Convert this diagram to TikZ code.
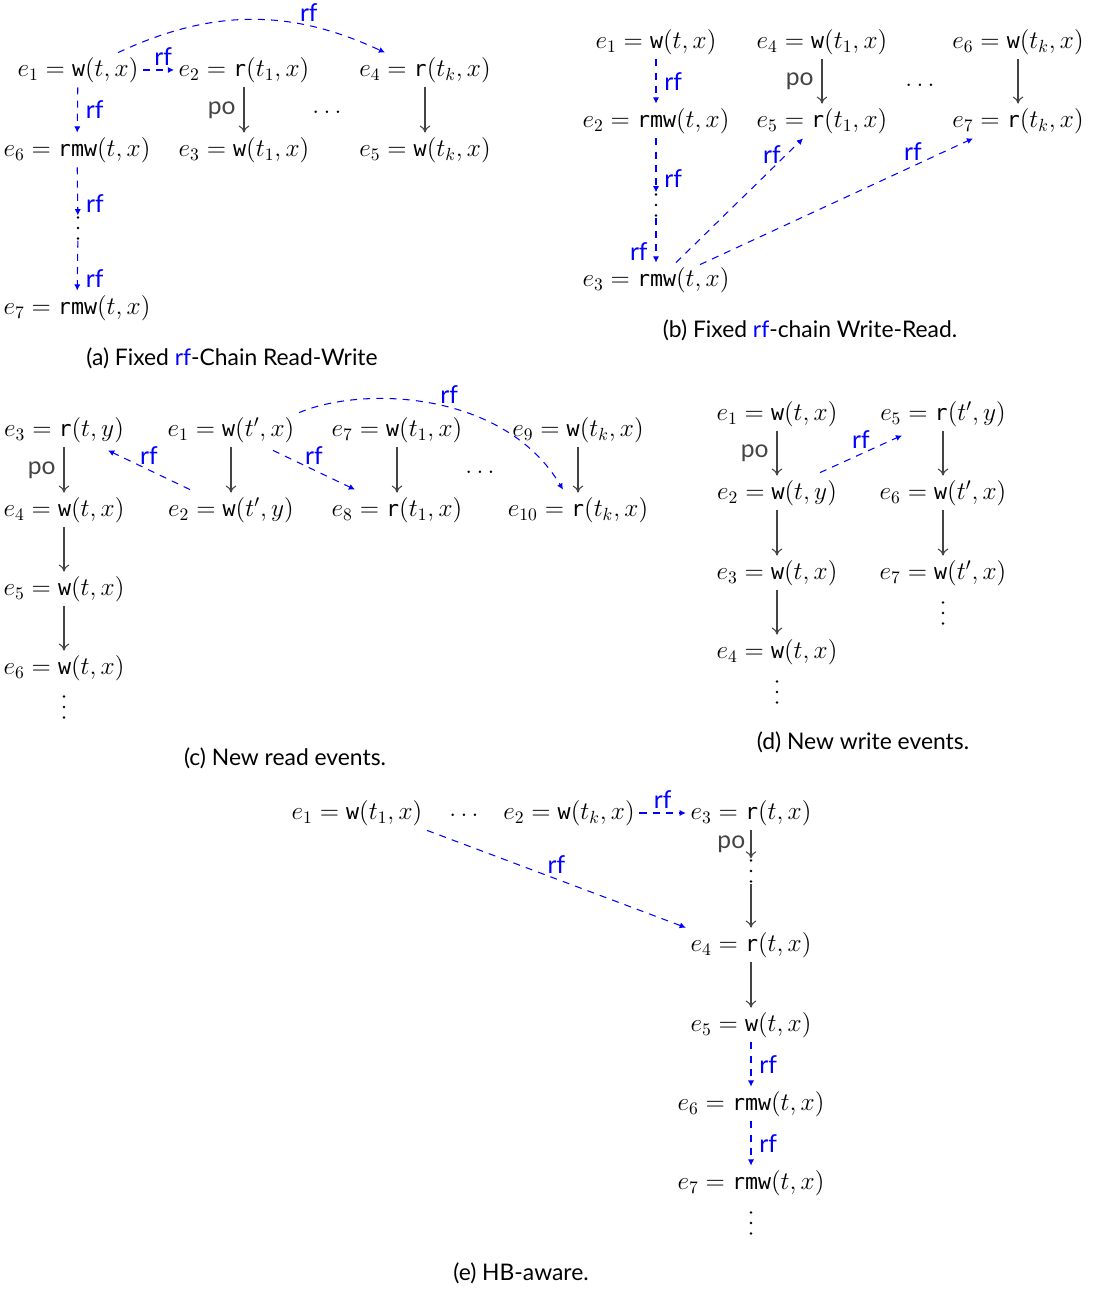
\documentclass[tikz,border=0pt]{standalone}
\usepackage{fontspec}
\setsansfont{Lato}
\newfontfamily\opfont{DejaVu Sans Mono}[Scale=0.88]
\usetikzlibrary{arrows.meta,calc}
\definecolor{pogray}{HTML}{444444}
\newcommand{\op}[1]{\mbox{\opfont #1}}
\newcommand{\vdotsat}[1]{\foreach \dy in {-10.5,0,10.5} {\fill ($(#1)+(0,\dy)$) circle (0.8pt);}}
\tikzset{
 ev/.style={inner sep=2.5pt, font=\fontsize{14}{16}\selectfont},
 dotsn/.style={inner sep=0pt, font=\fontsize{14}{16}\selectfont},
 vdn/.style={inner sep=0pt, minimum width=4pt, minimum height=14pt},
 poarr/.style={draw=pogray, -{To[length=4pt,width=6pt]}, line width=0.6pt},
 rfa/.style={draw=blue, -{Latex[length=3.5pt,width=3.5pt]}, line width=0.6pt, dash pattern=on 4pt off 3.5pt},
 rfl/.style={text=blue, font=\sffamily\fontsize{14}{16}\selectfont, inner sep=4.5pt},
 pol/.style={text=pogray, font=\sffamily\fontsize{14}{16}\selectfont, inner sep=4.5pt},
 capt/.style={font=\sffamily\fontsize{13}{16}\selectfont},
}
\begin{document}
\begin{tikzpicture}[x=0.02cm,y=-0.02cm]
\useasboundingbox (0,0) rectangle (1105,1290);
% (a)
\node[ev] (a1) at (78,70) {$e_1 = \op{w}(t,x)$};
\node[ev] (a2) at (244,70) {$e_2 = \op{r}(t_1,x)$};
\node[ev] (a4) at (425,70) {$e_4 = \op{r}(t_k,x)$};
\node[ev] (a6) at (77,150) {$e_6 = \op{rmw}(t,x)$};
\node[ev] (a3) at (244,150) {$e_3 = \op{w}(t_1,x)$};
\node[ev] (a5) at (425,150) {$e_5 = \op{w}(t_k,x)$};
\node[dotsn] (adots) at (327,112) {$\dots$};
\node[vdn] (avd) at (78,228) {};
\vdotsat{avd}
\node[ev] (a7) at (77,308) {$e_7 = \op{rmw}(t,x)$};
\node[capt] (acap) at (232,358) {(a) Fixed \textcolor{blue}{rf}-Chain Read-Write};
\draw[rfa] (a1) -- node[rfl,right]{rf} (a6);
\draw[rfa] (a6) -- node[rfl,right,pos=0.75]{rf} (avd);
\draw[rfa] (avd) -- node[rfl,right,pos=0.75]{rf} (a7);
\draw[rfa] (a1) -- node[rfl,above,pos=0.65,inner sep=2pt]{rf} (a2);
\draw[rfa] ($(a1.north)+(40,0)$) to[bend left=25] node[rfl,pos=0.72,above,inner sep=2pt]{rf} ($(a4.north)+(-40,0)$);
\draw[poarr] (a2) -- node[pol,left]{po} (a3);
\draw[poarr] (a4) -- (a5);
% (b)
\node[ev] (b1) at (656,42) {$e_1 = \op{w}(t,x)$};
\node[ev] (b4) at (822,42) {$e_4 = \op{w}(t_1,x)$};
\node[ev] (b6) at (1018,42) {$e_6 = \op{w}(t_k,x)$};
\node[ev] (b2) at (656,121) {$e_2 = \op{rmw}(t,x)$};
\node[ev] (b5) at (822,121) {$e_5 = \op{r}(t_1,x)$};
\node[ev] (b7) at (1018,121) {$e_7 = \op{r}(t_k,x)$};
\node[dotsn] (bdots) at (920,85) {$\dots$};
\node[vdn] (bvd) at (656,205) {};
\vdotsat{bvd}
\node[ev] (b3) at (656,280) {$e_3 = \op{rmw}(t,x)$};
\node[capt] (bcap) at (810,330) {(b) Fixed \textcolor{blue}{rf}-chain Write-Read.};
\draw[rfa] (b1) -- node[rfl,right]{rf} (b2);
\draw[rfa] (b2) -- node[rfl,right,pos=0.75]{rf} (bvd);
\draw[rfa] (bvd) -- node[rfl,left,pos=0.75]{rf} (b3);
\draw[poarr] (b4) -- node[pol,left]{po} (b5);
\draw[poarr] (b6) -- (b7);
\draw[rfa] ($(b3.north)+(20,0)$) -- node[rfl,pos=0.87,left,inner sep=3pt]{rf} ($(b5.south)+(-19,0)$);
\draw[rfa] ($(b3.north)+(44,2)$) -- node[rfl,pos=0.78,above,inner sep=3pt]{rf} ($(b7.south)+(-45,0)$);
% (c)
\node[ev] (c3) at (64,430) {$e_3 = \op{r}(t,y)$};
\node[ev] (c1) at (231,430) {$e_1 = \op{w}(t',x)$};
\node[ev] (c7) at (397,430) {$e_7 = \op{w}(t_1,x)$};
\node[ev] (c9) at (578,430) {$e_9 = \op{w}(t_k,x)$};
\node[ev] (c4) at (64,510) {$e_4 = \op{w}(t,x)$};
\node[ev] (c2) at (231,510) {$e_2 = \op{w}(t',y)$};
\node[ev] (c8) at (397,510) {$e_8 = \op{r}(t_1,x)$};
\node[ev] (c10) at (578,510) {$e_{10} = \op{r}(t_k,x)$};
\node[ev] (c5) at (64,589) {$e_5 = \op{w}(t,x)$};
\node[ev] (c6) at (64,668) {$e_6 = \op{w}(t,x)$};
\node[vdn] (cvd) at (64,707) {};
\vdotsat{cvd}
\node[dotsn] (cdots) at (480,472) {$\dots$};
\node[capt] (ccap) at (285,758) {(c) New read events.};
\draw[poarr] (c3) -- node[pol,left]{po} (c4);
\draw[poarr] (c4) -- (c5);
\draw[poarr] (c5) -- (c6);
\draw[poarr] (c1) -- (c2);
\draw[poarr] (c7) -- (c8);
\draw[poarr] (c9) -- (c10);
\draw[rfa] ($(c2.north)+(-41,-3)$) -- node[rfl,above,inner sep=3pt]{rf} ($(c3.south)+(44,3)$);
\draw[rfa] ($(c1.south)+(42,3)$) -- node[rfl,above,inner sep=3pt]{rf} ($(c8.north)+(-42,-3)$);
\draw[rfa] (c1.north east) .. controls (365,385) and (505,392) .. node[rfl,pos=0.55,above,inner sep=2pt]{rf} ($(c10.north)+(-15,-3)$);
% (d)
\node[ev] (d1) at (777,414) {$e_1 = \op{w}(t,x)$};
\node[ev] (d5) at (943,414) {$e_5 = \op{r}(t',y)$};
\node[ev] (d2) at (777,493) {$e_2 = \op{w}(t,y)$};
\node[ev] (d6) at (943,493) {$e_6 = \op{w}(t',x)$};
\node[ev] (d3) at (777,573) {$e_3 = \op{w}(t,x)$};
\node[ev] (d7) at (943,573) {$e_7 = \op{w}(t',x)$};
\node[vdn] (d7vd) at (943,613) {};
\vdotsat{d7vd}
\node[ev] (d4) at (777,652) {$e_4 = \op{w}(t,x)$};
\node[vdn] (d4vd) at (777,692) {};
\vdotsat{d4vd}
\node[capt] (dcap) at (863,742) {(d) New write events.};
\draw[poarr] (d1) -- node[pol,left]{po} (d2);
\draw[poarr] (d2) -- (d3);
\draw[poarr] (d3) -- (d4);
\draw[poarr] (d5) -- (d6);
\draw[poarr] (d6) -- (d7);
\draw[rfa] ($(d2.north)+(43,-3)$) -- node[rfl,above,inner sep=3pt]{rf} ($(d5.south)+(-41,4)$);
% (e)
\node[ev] (e1) at (357,813) {$e_1 = \op{w}(t_1,x)$};
\node[dotsn] (edots) at (464,815) {$\dots$};
\node[ev] (e2) at (569,813) {$e_2 = \op{w}(t_k,x)$};
\node[ev] (e3) at (751,813) {$e_3 = \op{r}(t,x)$};
\node[vdn] (evd1) at (751,871) {};
\vdotsat{evd1}
\node[ev] (e4) at (751,945) {$e_4 = \op{r}(t,x)$};
\node[ev] (e5) at (751,1025) {$e_5 = \op{w}(t,x)$};
\node[ev] (e6) at (751,1104) {$e_6 = \op{rmw}(t,x)$};
\node[ev] (e7) at (751,1183) {$e_7 = \op{rmw}(t,x)$};
\node[vdn] (evd2) at (751,1223) {};
\vdotsat{evd2}
\node[capt] (ecap) at (521,1273) {(e) HB-aware.};
\draw[rfa] (e2) -- node[rfl,above,inner sep=2pt]{rf} (e3);
\draw[poarr] (e3) -- node[pol,left,inner sep=3pt]{po} (evd1);
\draw[poarr] (evd1) -- (e4);
\draw[rfa] (e1.south east) -- node[rfl,above,inner sep=3pt]{rf} (e4.north west);
\draw[poarr] (e4) -- (e5);
\draw[rfa] (e5) -- node[rfl,right]{rf} (e6);
\draw[rfa] (e6) -- node[rfl,right]{rf} (e7);
\end{tikzpicture}
\end{document}
